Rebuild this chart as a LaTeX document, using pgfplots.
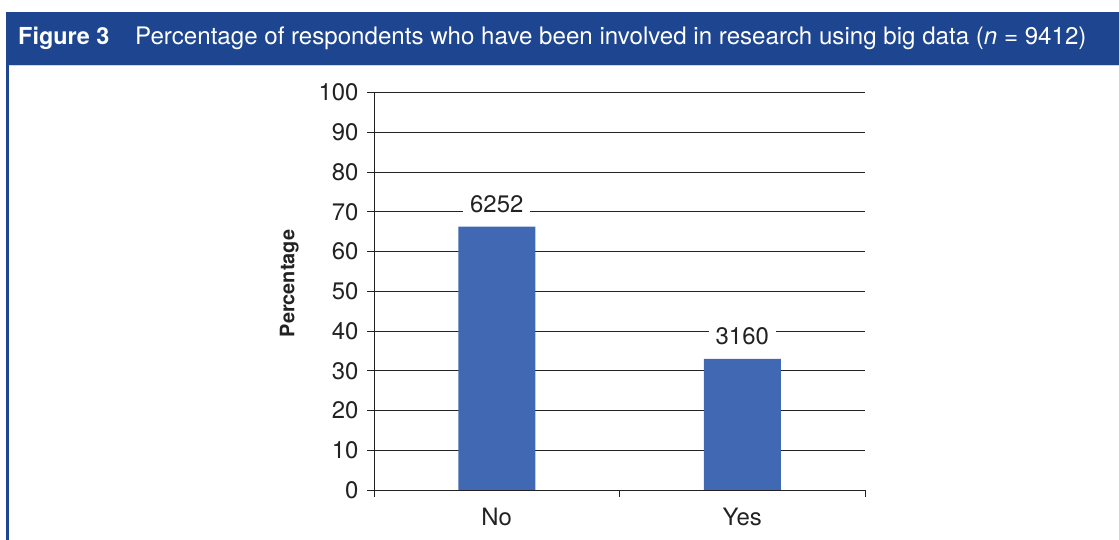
\documentclass[border=0pt]{standalone}
\usepackage{fontspec}
\setmainfont{TeX Gyre Heros}
\usepackage{pgfplots}
\pgfplotsset{compat=1.18}
\definecolor{hdr}{HTML}{1D4590}
\definecolor{barc}{HTML}{4168B2}
\definecolor{axc}{HTML}{222222}
\begin{document}
\begin{tikzpicture}
\path[use as bounding box] (0,0) rectangle (1119bp,540bp);
\fill[hdr] (6bp,475bp) rectangle (1119bp,528bp);
\fill[hdr] (6bp,0) rectangle (8.5bp,475bp);
\draw[color={rgb,255:red,205;green,215;blue,232}, line width=1bp] (8.5bp,474.5bp) -- (1119bp,474.5bp);
\node[anchor=base west, text=white, inner sep=0, font=\fontsize{23.5}{27}\selectfont\bfseries] at (18bp,495bp) {Figure 3};
\node[anchor=base west, text=white, inner sep=0, font=\fontsize{24.2}{28}\selectfont] at (135bp,495bp) {Percentage of respondents who have been involved in research using big data (\textit{n} = 9412)};
\begin{axis}[
  at={(374bp,50bp)}, anchor=south west,
  scale only axis, width=491bp, height=397.3bp,
  xmin=-0.5, xmax=1.5, ymin=0, ymax=100,
  axis lines*=left,
  axis line style={axc, line width=1bp},
  ymajorgrids, grid style={axc, line width=1bp},
  ytick={0,10,...,100},
  xtick={0,1}, xticklabels={No,Yes},
  minor xtick={-0.5,0.5,1.5},
  tick align=outside,
  major tick length=7bp, minor tick length=7bp,
  major x tick style={draw=none},
  minor x tick style={axc, line width=1bp},
  ytick style={axc, line width=1bp},
  tick label style={font=\fontsize{24}{28}\selectfont, text=axc},
  yticklabel style={xshift=-5bp},
  xticklabel style={yshift=-8bp},
  /pgf/number format/assume math mode=true,
  ylabel={Percentage},
  ylabel style={font=\fontsize{20}{22}\selectfont\bfseries, text=axc, yshift=13bp, xshift=8bp},
  ybar, bar width=77bp,
  nodes near coords, point meta=explicit symbolic,
  every node near coord/.append style={fill=white, inner xsep=7bp, inner ysep=3bp, font=\fontsize{24}{28}\selectfont, text=axc, yshift=11bp},
]
\addplot[fill=barc, draw=none] coordinates {(0,66.3) [6252] (1,33.0) [3160]};
\end{axis}
\end{tikzpicture}
\end{document}
